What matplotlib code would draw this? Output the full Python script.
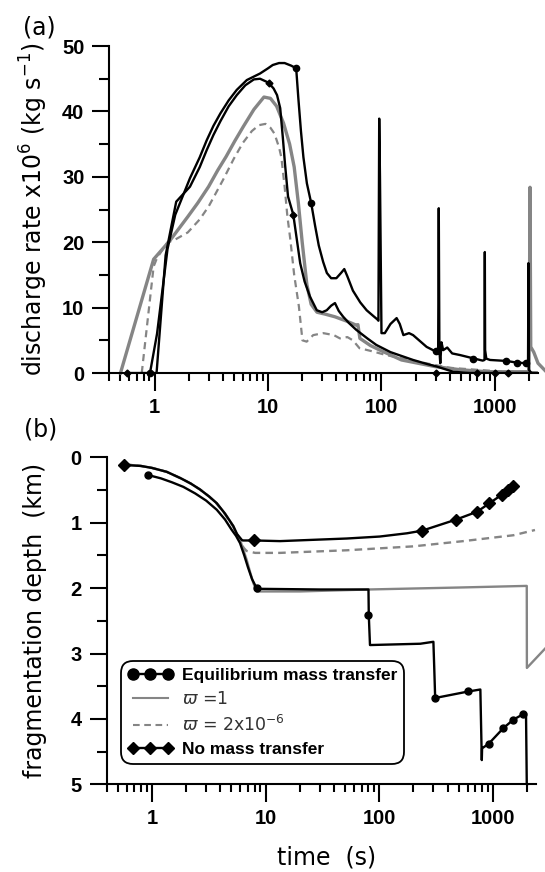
import matplotlib
matplotlib.use("Agg")
import matplotlib.pyplot as plt
from matplotlib.lines import Line2D
from matplotlib.ticker import FixedLocator, NullFormatter, LogLocator

# ---------------- data: panel (a) discharge rate (x1e6 kg/s) ----------------
eq_t = [0.91, 1.05, 1.3, 1.52, 2.05, 2.5, 2.88, 3.3, 3.8, 4.5, 5.3, 6.5, 8.5, 10, 11, 12.5,
        14, 16, 17.7, 18.5, 19.5, 20.5, 22, 24, 26, 28, 30.6, 33, 36, 40, 44, 47, 50, 56, 65,
        74, 85, 92, 94, 95.5, 97, 100, 107, 120, 136, 145, 156, 175, 190, 250, 300, 316, 320,
        324, 330, 338, 350, 380, 420, 493, 644, 780, 810, 815, 820, 840, 906, 1260, 1560,
        1880, 1960, 1975, 1990, 2100]
eq_q = [0, 6, 19, 24.2, 29.8, 33, 35.6, 37.8, 39.7, 41.7, 43.3, 44.8, 45.8, 46.6, 47.1, 47.4,
        47.4, 47.0, 46.6, 42, 37, 33, 29, 26, 22.5, 19.5, 17, 15.3, 14.5, 14.5, 15.3, 15.9, 14.8,
        12.6, 10.8, 9.6, 8.7, 8.2, 8.0, 38.9, 30, 6.1, 6.1, 7.5, 8.4, 7.5, 5.8, 6.1, 5.8, 4.0,
        3.3, 3.0, 25.2, 3.5, 1.5, 4.7, 3.5, 3.9, 3.0, 2.75, 2.25, 1.9, 2.0, 18.5, 3.5, 2.2,
        2.0, 1.85, 1.6, 1.5, 1.5, 16.8, 0.5, 0.0]
eq_mark_t = [0.91, 17.7, 24, 300, 635, 1260, 1560, 1880]
eq_mark_q = [0, 46.6, 26, 3.3, 2.2, 1.85, 1.6, 1.5]

w1_t = [0.5, 0.98, 1.37, 1.96, 2.4, 2.99, 3.6, 4.27, 5.1, 6.06, 7.5, 9.2, 10.5, 11.9, 13.7,
        15.5, 17, 18.5, 20, 22, 24, 27, 32, 38.9, 50, 60.3, 62, 64.5, 80, 97, 150, 294, 500,
        850, 2000, 2040, 2070, 2200, 2400, 2800]
w1_q = [0, 17.4, 20.3, 23.9, 26, 28.5, 31, 33.1, 35.5, 37.7, 40.3, 42.2, 42.0, 40.8, 38.2,
        35, 31.5, 26, 20, 13.5, 10.5, 9.3, 9.0, 8.6, 7.9, 7.3, 7.4, 5.3, 4.2, 3.5, 2.0, 1.0,
        0.5, 0.2, 0.2, 28.4, 4.0, 3.2, 1.5, 0.3]

w2_t = [0.77, 0.98, 1.05, 1.3, 1.48, 1.96, 2.5, 3.0, 4.0, 5.0, 6.0, 7.2, 8.3, 9.5, 10.5,
        11.4, 12.5, 13.1, 14, 14.8, 15.7, 17, 18.7, 20.1, 21.9, 25, 30.7, 38, 43, 50, 56, 64,
        84, 110, 200, 400, 1000, 2400]
w2_q = [0, 16.3, 17.6, 20.0, 20.3, 21.5, 23.5, 25.5, 29.5, 32.8, 35.2, 37, 37.9, 38.1, 37.5,
        36.6, 34.5, 33, 28.5, 24, 20.5, 15, 10.2, 5.0, 4.8, 5.8, 6.1, 5.8, 5.3, 5.5, 5.0, 3.8,
        3.3, 2.75, 1.8, 0.8, 0.3, 0.1]

nm_t = [0.57, 1.04, 1.25, 1.55, 2.05, 2.5, 2.88, 3.3, 3.8, 4.5, 5.3, 6.3, 7.5, 8.5, 10.1,
        11.2, 12, 12.8, 13.5, 14.1, 15.0, 16.7, 19.2, 21, 23.4, 26.9, 30, 32.9, 36, 38.9, 42,
        46, 52, 60, 75, 90, 120, 190, 250, 307, 370, 428, 600, 2400]
nm_q = [0, 0, 18, 26.2, 28.5, 31.5, 34.1, 36.4, 38.5, 40.8, 42.5, 44, 44.9, 45.0, 44.4, 43.5,
        42.5, 40.5, 36, 32, 27, 24.2, 16.8, 14, 11.7, 9.6, 9.3, 9.6, 10.3, 10.7, 9.5, 8.6, 7.6,
        6.6, 5.3, 4.3, 3.2, 2.0, 1.4, 1.0, 0.55, 0.2, 0, 0]
nm_mark_t = [0.57, 10.1, 16.7, 300, 700, 1000, 1300]
nm_mark_q = [0, 44.4, 24.2, 0, 0, 0, 0]

# ---------------- data: panel (b) fragmentation depth (km) ----------------
eq_bt = [0.93, 1.2, 1.5, 1.89, 2.4, 3.0, 3.72, 4.4, 5.0, 5.5, 5.96, 6.5, 7.0, 7.6, 8.35, 9,
         30, 80.5, 81, 83, 230, 300, 305, 311, 610, 777, 800, 805, 920, 1240, 1520, 1840,
         1960, 1990, 2000]
eq_bd = [0.27, 0.32, 0.38, 0.45, 0.55, 0.66, 0.80, 0.95, 1.1, 1.2, 1.31, 1.5, 1.68, 1.86,
         2.0, 2.01, 2.02, 2.02, 2.41, 2.87, 2.85, 2.82, 3.2, 3.68, 3.58, 3.55, 4.63, 4.45,
         4.38, 4.14, 4.01, 3.93, 3.92, 4.98, 5.0]
eq_bmark_t = [0.93, 8.35, 80.5, 311, 610, 920, 1240, 1520, 1840]
eq_bmark_d = [0.27, 2.0, 2.41, 3.68, 3.58, 4.38, 4.14, 4.01, 3.93]

w1_bt = [0.567, 0.8, 1.0, 1.35, 1.8, 2.2, 2.65, 3.2, 3.72, 4.4, 5.2, 5.6, 5.96, 6.4, 6.83,
         7.3, 7.8, 8.35, 20, 80, 500, 1990, 1995, 2900]
w1_bd = [0.105, 0.13, 0.16, 0.22, 0.32, 0.40, 0.49, 0.6, 0.70, 0.86, 1.05, 1.17, 1.26, 1.42,
         1.57, 1.75, 1.92, 2.05, 2.05, 2.02, 1.99, 1.965, 3.22, 2.92]

w2_bt = [0.567, 0.8, 1.0, 1.35, 1.8, 2.2, 2.65, 3.2, 3.72, 4.4, 5.2, 5.6, 6.0, 6.4, 6.8, 8.1,
         13.4, 52, 200, 550, 1520, 2350]
w2_bd = [0.105, 0.13, 0.16, 0.22, 0.32, 0.40, 0.49, 0.6, 0.71, 0.87, 1.06, 1.18, 1.28, 1.38,
         1.43, 1.46, 1.46, 1.42, 1.36, 1.28, 1.19, 1.11]

nm_bt = [0.567, 0.8, 1.0, 1.35, 1.8, 2.2, 2.65, 3.2, 3.72, 4.4, 5.2, 5.6, 6.17, 6.3, 7.95,
         13.4, 52, 101, 176, 239, 476, 728, 935, 1200, 1420, 1570]
nm_bd = [0.115, 0.13, 0.16, 0.22, 0.32, 0.40, 0.49, 0.6, 0.70, 0.86, 1.05, 1.17, 1.26, 1.27,
         1.27, 1.28, 1.24, 1.21, 1.16, 1.12, 0.95, 0.83, 0.70, 0.57, 0.47, 0.40]
nm_bmark_t = [0.567, 7.95, 239, 476, 728, 935, 1200, 1350, 1500]
nm_bmark_d = [0.115, 1.27, 1.12, 0.95, 0.83, 0.70, 0.57, 0.50, 0.43]

xtick_vals = [1, 10, 100, 1000]
xtick_labels = ['1', '10', '100', '1000']
labels = ['Equilibrium mass transfer', r'$\varpi$ =1', r'$\varpi$ = 2x10$^{-6}$',
          'No mass transfer']

# ---------------- style ----------------
plt.rcParams['font.family'] = ['Liberation Sans', 'DejaVu Sans']
plt.rcParams['mathtext.fontset'] = 'dejavusans'
GRAY = '#858585'
LW = 1.7

fig = plt.figure(figsize=(5.45, 8.72), dpi=100)
ax1 = fig.add_axes([0.2009, 0.5722, 0.7863, 0.375])
ax2 = fig.add_axes([0.1958, 0.1006, 0.7877, 0.3748])

# panel (a)
ax1.plot(w1_t, w1_q, color=GRAY, lw=2.4, clip_on=False, zorder=2)
ax1.plot(w2_t, w2_q, color=GRAY, lw=1.6, dashes=(3.2, 2.2), zorder=2)
ax1.plot(nm_t, nm_q, color='k', lw=LW, zorder=3)
ax1.plot(eq_t, eq_q, color='k', lw=LW, zorder=3)
ax1.plot(eq_mark_t, eq_mark_q, 'o', color='k', ms=4.5, zorder=4, clip_on=False)
ax1.plot(nm_mark_t, nm_mark_q, 'D', color='k', ms=3.5, zorder=4, clip_on=False)
ax1.set_ylim(0, 50)

# panel (b)
ax2.plot(w1_bt, w1_bd, color=GRAY, lw=1.7, clip_on=False, zorder=2)
ax2.plot(w2_bt, w2_bd, color=GRAY, lw=1.7, dashes=(3.2, 2.2), zorder=2)
ax2.plot(eq_bt, eq_bd, color='k', lw=LW, zorder=3, clip_on=False)
ax2.plot(eq_bmark_t, eq_bmark_d, 'o', color='k', ms=5, zorder=4)
ax2.plot(nm_bt, nm_bd, color='k', lw=LW, zorder=3)
ax2.plot(nm_bmark_t, nm_bmark_d, 'D', color='k', ms=6, zorder=4)
ax2.set_ylim(5, 0)

ax1.set_yticks([0, 10, 20, 30, 40, 50])
ax1.set_yticks([5, 15, 25, 35, 45], minor=True)
ax2.set_yticks([0, 1, 2, 3, 4, 5])
ax2.set_yticks([0.5, 1.5, 2.5, 3.5, 4.5], minor=True)

for ax in (ax1, ax2):
    ax.set_xscale('log')
    ax.set_xlim(0.40, 2400)
    ax.xaxis.set_major_locator(FixedLocator(xtick_vals))
    ax.set_xticklabels(xtick_labels)
    ax.xaxis.set_minor_locator(LogLocator(base=10, subs=range(2, 10), numticks=20))
    ax.xaxis.set_minor_formatter(NullFormatter())
    for s in ('top', 'right'):
        ax.spines[s].set_visible(False)
    for s in ('left', 'bottom'):
        ax.spines[s].set_linewidth(1.5)
    ax.tick_params(axis='x', which='major', length=13, width=1.5, pad=5)
    ax.tick_params(axis='x', which='minor', length=5.5, width=1.5)
    ax.tick_params(axis='y', which='major', length=12, width=1.5, pad=6)
    ax.tick_params(axis='y', which='minor', length=7, width=1.5)
    for t in ax.get_xticklabels() + ax.get_yticklabels():
        t.set_fontsize(14.5)
        t.set_fontweight('bold')

ax1.set_ylabel('discharge rate x10$^6$ (kg s$^{-1}$)', fontsize=17, family='DejaVu Sans')
ax1.yaxis.set_label_coords(-0.139, 0.5)
ax2.set_ylabel('fragmentation depth  (km)', fontsize=17, family='DejaVu Sans')
ax2.yaxis.set_label_coords(-0.139, 0.5)
ax2.set_xlabel('time  (s)', fontsize=17, family='DejaVu Sans')
ax2.xaxis.set_label_coords(0.511, -0.188)

fig.text(0.042, 0.969, '(a)', fontsize=17, family='DejaVu Sans', va='center', ha='left')
fig.text(0.044, 0.507, '(b)', fontsize=17, family='DejaVu Sans', va='center', ha='left')

# legend
handles = [
    Line2D([], [], color='k', lw=LW, marker='o', ms=8),
    Line2D([], [], color=GRAY, lw=1.5),
    Line2D([], [], color=GRAY, lw=1.5, dashes=(3.2, 2.2)),
    Line2D([], [], color='k', lw=LW, marker='D', ms=6.5),
]
leg = ax2.legend(handles, labels, loc='lower left', bbox_to_anchor=(0.033, 0.062),
                 numpoints=3, handlelength=2.6, handletextpad=0.5, labelspacing=0.4,
                 borderpad=0.4, borderaxespad=0, fontsize=12.5, frameon=True,
                 fancybox=True, framealpha=1, edgecolor='k')
leg.get_frame().set_linewidth(1.3)
leg.get_frame().set_boxstyle('round', pad=0, rounding_size=0.7)
for i, t in enumerate(leg.get_texts()):
    if i in (0, 3):
        t.set_fontweight('bold')
    else:
        t.set_family('DejaVu Sans')
        t.set_color('#333333')

fig.savefig('out.png', dpi=100)
